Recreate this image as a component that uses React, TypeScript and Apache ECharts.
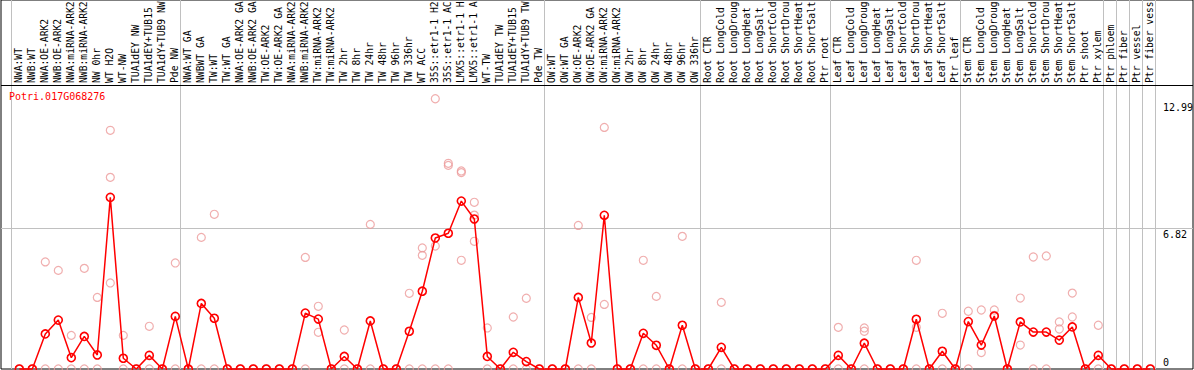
import React, { useEffect, useRef } from "react";
import * as echarts from "echarts";

const geneId = "Potri.017G068276";

// category names as they appear (the label band cuts them at 14 characters)
const categories = [
  "NWA:WT", "NWB:WT", "NWA:OE-ARK2", "NWB:OE-ARK2", "NWA:miRNA-ARK2", "NWB:miRNA-ARK2", "NW 0hr", "WT H2O", "WT-NW", "TUA1dEY NW", "TUA1dEY+TUB15", "TUA1dY+TUB9 NW", "Pde NW",
  "NWA:WT GA", "NWBWT GA", "TW:WT", "TW:WT GA", "NWA:OE-ARK2 GA", "NWB:OE-ARK2 GA", "TW:OE-ARK2", "TW:OE-ARK2 GA", "NWA:miRNA-ARK2", "NWB:miRNA-ARK2", "TW:miRNA-ARK2", "TW:miRNA-ARK2", "TW 2hr", "TW 8hr", "TW 24hr", "TW 48hr", "TW 96hr", "TW 336hr", "WT ACC", "35S::etr1-1 H2", "35S::etr1-1 AC", "LMX5::etr1-1 H", "LMX5::etr1-1 A", "WT-TW", "TUA1dEY TW", "TUA1dEY+TUB15", "TUA1dY+TUB9 TW", "Pde TW",
  "OW:WT", "OW:WT GA", "OW:OE-ARK2", "OW:OE-ARK2 GA", "OW:miRNA-ARK2", "OW:miRNA-ARK2", "OW 2hr", "OW 8hr", "OW 24hr", "OW 48hr", "OW 96hr", "OW 336hr",
  "Root CTR", "Root LongCold", "Root LongDroug", "Root LongHeat", "Root LongSalt", "Root ShortCold", "Root ShortDrou", "Root ShortHeat", "Root ShortSalt", "Ptr root",
  "Leaf CTR", "Leaf LongCold", "Leaf LongDroug", "Leaf LongHeat", "Leaf LongSalt", "Leaf ShortCold", "Leaf ShortDrou", "Leaf ShortHeat", "Leaf ShortSalt", "Ptr leaf",
  "Stem CTR", "Stem LongCold", "Stem LongDroug", "Stem LongHeat", "Stem LongSalt", "Stem ShortCold", "Stem ShortDrou", "Stem ShortHeat", "Stem ShortSalt", "Ptr shoot",
  "Ptr xylem", "Ptr phloem", "Ptr fiber", "Ptr vessel", "Ptr fiber vess",
];

const means = [
  0, 0, 1.70, 2.37, 0.55, 1.58, 0.68, 8.32, 0.52, 0, 0.66, 0, 2.55,
  0, 3.18, 2.46, 0, 0, 0, 0, 0, 0, 2.71, 2.42, 0, 0.61, 0, 2.33, 0, 0, 1.83, 3.77, 6.35, 6.58, 8.14, 7.27, 0.61, 0, 0.81, 0.36, 0,
  0, 0, 3.47, 1.26, 7.45, 0, 0, 1.73, 1.15, 0, 2.12, 0,
  0, 1.05, 0, 0, 0, 0, 0, 0, 0, 0,
  0.66, 0, 1.25, 0, 0, 0, 2.41, 0, 0.86, 0,
  2.3, 1.16, 2.57, 0, 2.28, 1.79, 1.79, 1.4, 2.04, 0,
  0.66, 0, 0, 0, 0,
];

const rep1 = [
  0, 0, 5.19, 4.78, 1.63, 4.88, 3.47, 11.57, 1.63, 0, 2.07, 0, 5.14,
  0, 6.38, 7.50, 0, 0, 0, 0, 0, 0, 5.41, 3.04, 0, 1.89, 0, 7.01, 0, 0, 3.67, 5.87, 13.1, 9.97, 9.60, 8.08, 1.99, 0, 2.52, 3.43, 0,
  0, 0, 6.96, 2.50, 11.71, 0, 0, 5.27, 3.52, 0, 6.43, 0,
  0, 3.23, 0, 0, 0, 0, 0, 0, 0, 0,
  2.02, 0, 1.99, 0, 0, 0, 5.27, 0, 2.70, 0,
  2.8, 2.86, 2.86, 0, 3.44, 5.43, 5.48, 2.28, 3.68, 0,
  2.12, 0, 0, 0, 0,
];

const rep2 = [
  0, 0, 0, 0, 0, 0, 0, 9.29, 0, 0, 0, 0, 0,
  0, 0, 0, 0, 0, 0, 0, 0, 0, 0, 1.78, 0, 0, 0, 0, 0, 0, 0, 5.51, 5.96, 9.87, 9.52, 7.46, 0, 0, 0, 0, 0,
  0, 0, 0, 0, 3.13, 0, 0, 0, 0, 0, 0, 0,
  0, 0, 0, 0, 0, 0, 0, 0, 0, 0,
  0, 0, 1.83, 0, 0, 0, 2.02, 0, 0, 0,
  0, 0.8, 2.6, 0, 1.16, 0, 0, 1.94, 2.52, 0,
  0, 0, 0, 0, 0,
];

const rep3 = [
  null, null, null, null, null, null, null, 4.17, null, null, null, null, null,
  null, null, null, null, null, null, null, null, null, null, null, null, null, null, null, null, null, null, 0, 0, 0, 5.27, 6.19, null, null, null, null, null,
  null, null, null, null, null, null, null, null, null, null, null, null,
  null, null, null, null, null, null, null, null, null, null,
  null, null, 0, null, null, null, 0, null, null, null,
  null, null, null, null, null, null, null, null, null, null,
  null, null, null, null, null,
];

const yTickLabels = ["0", "6.82", "12.99"];
const yTickValues = [0, 6.82, 12.99];
const yGridValues = [6.82];
// separators drawn after this many categories
const groupBreaks = [0, 13, 41, 53, 63, 73, 84, 85, 86, 87, 88];

const FONT = '"DejaVu Sans Mono", monospace';
const RED = "#ff0000";
const PINK = "#ec9a9a";
const GRAY = "#c0c0c0";

// layout (pixels)
const frameLeft = 1;
const frameRight = 1193;
const frameBottom = 369;
const plotTop = 85;
const firstX = 19.3;
const step = 13;
const pxPerUnit = 20.63;

export default function App() {
  const ref = useRef<HTMLDivElement>(null);
  useEffect(() => {
    const el = ref.current!;
    const chart = echarts.init(el, null, { renderer: "svg" });
    const xMin = (frameLeft - firstX) / step;
    const xMax = (frameRight - firstX) / step;
    const yMax = frameBottom / pxPerUnit;
    const plotTopValue = (frameBottom - plotTop) / pxPerUnit;

    const repData: [number, number][] = [];
    [rep1, rep2, rep3].forEach((arr) =>
      arr.forEach((v, i) => {
        if (v !== null && v !== undefined) repData.push([i, v as number]);
      })
    );

    const markData: any[] = [
      ...groupBreaks.map((k) => ({ xAxis: k - 1 + 5 / step })),
      ...yGridValues.map((v) => ({ yAxis: v })),
      { yAxis: plotTopValue, lineStyle: { color: "#000", width: 1, type: "solid" } },
    ];

    chart.setOption({
      animation: false,
      backgroundColor: "#fff",
      grid: [
        { left: frameLeft, right: 1194 - frameRight, top: 0, bottom: 370 - frameBottom, show: true, borderColor: "#000", borderWidth: 1, backgroundColor: "transparent" },
      ],
      title: {
        text: geneId,
        left: 9,
        top: 91,
        padding: 0,
        textStyle: { color: RED, fontSize: 10, fontFamily: FONT, fontWeight: "normal" },
      },
      xAxis: [{ type: "value", gridIndex: 0, min: xMin, max: xMax, show: false }],
      yAxis: [{ type: "value", gridIndex: 0, min: 0, max: yMax, show: false }],
      series: [
        {
          type: "scatter",
          data: repData,
          symbol: "circle",
          symbolSize: 8,
          clip: false,
          silent: true,
          z: 2,
          itemStyle: { color: "transparent", borderColor: PINK, borderWidth: 1.2 },
          markLine: {
            silent: true,
            symbol: ["none", "none"],
            label: { show: false },
            z: 1,
            lineStyle: { color: GRAY, width: 1, type: "solid" },
            data: markData,
          },
        },
        {
          type: "line",
          data: means.map((v, i) => [i, v]),
          symbol: "circle",
          symbolSize: 8,
          showAllSymbol: true,
          clip: false,
          silent: true,
          z: 3,
          lineStyle: { color: RED, width: 1.5 },
          itemStyle: { color: "transparent", borderColor: RED, borderWidth: 1.6 },
        },
      ],
    });

    const tickTexts = yTickValues.map((v, i) => {
      const y = chart.convertToPixel({ yAxisIndex: 0 }, v) as number;
      const isZero = v === 0;
      return {
        type: "text",
        x: 1163,
        y: isZero ? y - 2 : y + 1,
        style: {
          text: yTickLabels[i],
          fill: "#000",
          font: `10px ${FONT}`,
          textAlign: "left",
          textVerticalAlign: isZero ? "bottom" : "top",
        },
        z: 10,
      };
    });
    const catTexts = categories.map((c, i) => {
      const x = chart.convertToPixel({ xAxisIndex: 0 }, i) as number;
      return {
        type: "text",
        x: x - 0.5,
        y: plotTop - 2,
        rotation: Math.PI / 2,
        style: {
          text: c,
          fill: "#000",
          font: `9.7px ${FONT}`,
          textAlign: "left",
          textVerticalAlign: "middle",
        },
        z: 10,
      };
    });
    chart.setOption({ graphic: [...tickTexts, ...catTexts] });

    return () => chart.dispose();
  }, []);
  return <div ref={ref} style={{ position: "fixed", left: 0, top: 0, width: 1194, height: 370 }} />;
}
